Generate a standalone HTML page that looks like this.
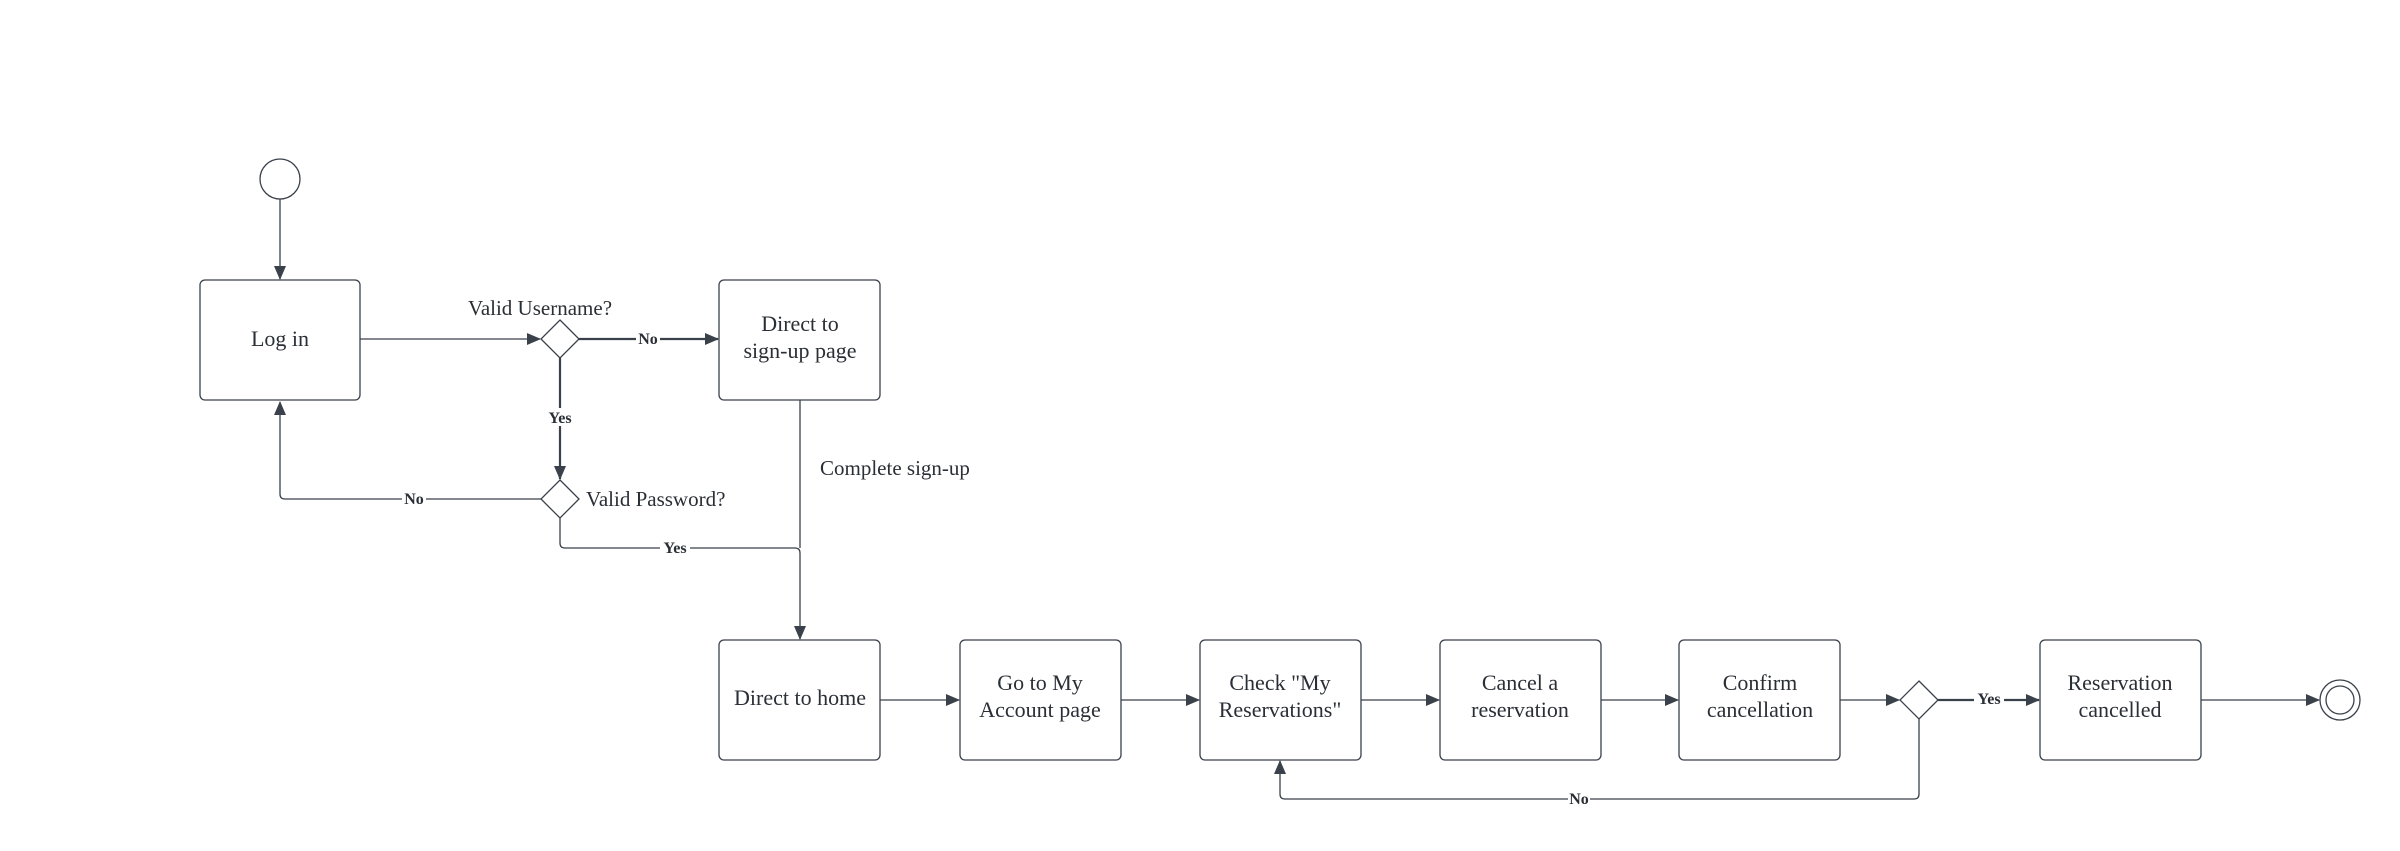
<!DOCTYPE html>
<html><head><meta charset="utf-8"><style>
html,body{margin:0;padding:0;background:#fff;}
svg{display:block;}
.b{fill:#fff;stroke:#3a414a;stroke-width:1.3;}
.l{fill:none;stroke:#3a414a;stroke-width:1.3;}
.lb{fill:none;stroke:#3a414a;stroke-width:2.2;}
.t{font-family:"Liberation Serif",serif;font-size:22px;fill:#2a2f36;text-anchor:middle;}
.s{font-family:"Liberation Serif",serif;font-size:16px;font-weight:bold;fill:#2a2f36;text-anchor:middle;}
</style></head><body>
<svg width="2400" height="851" viewBox="0 0 2400 851" xmlns="http://www.w3.org/2000/svg">
<defs><marker id="a" markerWidth="10" markerHeight="10" refX="9" refY="5" orient="auto" markerUnits="userSpaceOnUse"><path d="M0,0 L10,5 L0,10 Z" fill="#3a414a"/><path d="M0,0 L0,0" /></marker>
<marker id="a2" markerWidth="14" markerHeight="12" refX="13" refY="6" orient="auto" markerUnits="userSpaceOnUse"><path d="M0,0 L14,6 L0,12 Z" fill="#3a414a"/></marker></defs>

<circle class="b" cx="280" cy="179" r="20"/>
<line class="l" x1="280" y1="199" x2="280" y2="279" marker-end="url(#a2)"/>

<rect class="b" x="200" y="280" width="160" height="120" rx="5"/>
<text class="t" x="280" y="346">Log in</text>

<line class="l" x1="360" y1="339" x2="540" y2="339" marker-end="url(#a2)"/>
<path class="b" d="M560,320 L579,339 L560,358 L541,339 Z"/>
<text class="t" x="540" y="315" style="font-size:21px">Valid Username?</text>

<line class="lb" x1="579" y1="339" x2="718" y2="339" marker-end="url(#a2)"/>
<rect fill="#fff" x="636" y="329" width="24" height="18"/>
<text class="s" x="648" y="344">No</text>

<rect class="b" x="719" y="280" width="161" height="120" rx="5"/>
<text class="t" x="800" y="331">Direct to</text>
<text class="t" x="800" y="358">sign-up page</text>

<line class="lb" x1="560" y1="358" x2="560" y2="479" marker-end="url(#a2)"/>
<rect fill="#fff" x="545" y="408" width="30" height="18"/>
<text class="s" x="560" y="423">Yes</text>

<path class="b" d="M560,480 L579,499 L560,518 L541,499 Z"/>
<text class="t" x="586" y="506" style="text-anchor:start;font-size:21px">Valid Password?</text>

<path class="l" d="M541,499 L285,499 Q280,499 280,494 L280,402" marker-end="url(#a2)"/>
<rect fill="#fff" x="402" y="490" width="24" height="18"/>
<text class="s" x="414" y="504">No</text>

<path class="l" d="M560,518 L560,543 Q560,548 565,548 L795,548 Q800,548 800,553 L800,639" marker-end="url(#a2)"/>
<rect fill="#fff" x="660" y="539" width="30" height="18"/>
<text class="s" x="675" y="553">Yes</text>
<line class="l" x1="800" y1="400" x2="800" y2="548"/>
<text class="t" x="820" y="475" style="text-anchor:start;font-size:21px">Complete sign-up</text>

<g>
<rect class="b" x="719" y="640" width="161" height="120" rx="5"/>
<text class="t" x="800" y="705">Direct to home</text>
<rect class="b" x="960" y="640" width="161" height="120" rx="5"/>
<text class="t" x="1040" y="690">Go to My</text>
<text class="t" x="1040" y="717">Account page</text>
<rect class="b" x="1200" y="640" width="161" height="120" rx="5"/>
<text class="t" x="1280" y="690">Check "My</text>
<text class="t" x="1280" y="717">Reservations"</text>
<rect class="b" x="1440" y="640" width="161" height="120" rx="5"/>
<text class="t" x="1520" y="690">Cancel a</text>
<text class="t" x="1520" y="717">reservation</text>
<rect class="b" x="1679" y="640" width="161" height="120" rx="5"/>
<text class="t" x="1760" y="690">Confirm</text>
<text class="t" x="1760" y="717">cancellation</text>
<rect class="b" x="2040" y="640" width="161" height="120" rx="5"/>
<text class="t" x="2120" y="690">Reservation</text>
<text class="t" x="2120" y="717">cancelled</text>
</g>
<line class="l" x1="880" y1="700" x2="959" y2="700" marker-end="url(#a2)"/>
<line class="l" x1="1121" y1="700" x2="1199" y2="700" marker-end="url(#a2)"/>
<line class="l" x1="1361" y1="700" x2="1439" y2="700" marker-end="url(#a2)"/>
<line class="l" x1="1601" y1="700" x2="1678" y2="700" marker-end="url(#a2)"/>
<line class="l" x1="1840" y1="700" x2="1899" y2="700" marker-end="url(#a2)"/>
<path class="b" d="M1919,681 L1938,700 L1919,719 L1900,700 Z"/>
<line class="lb" x1="1938" y1="700" x2="2039" y2="700" marker-end="url(#a2)"/>
<rect fill="#fff" x="1974" y="690" width="30" height="18"/>
<text class="s" x="1989" y="704">Yes</text>
<line class="l" x1="2201" y1="700" x2="2319" y2="700" marker-end="url(#a2)"/>
<circle class="b" cx="2340" cy="700" r="20"/>
<circle class="b" cx="2340" cy="700" r="14"/>

<path class="l" d="M1919,719 L1919,794 Q1919,799 1914,799 L1285,799 Q1280,799 1280,794 L1280,761" marker-end="url(#a2)"/>
<rect fill="#fff" x="1568" y="790" width="22" height="18"/>
<text class="s" x="1579" y="804">No</text>
</svg>
</body></html>
